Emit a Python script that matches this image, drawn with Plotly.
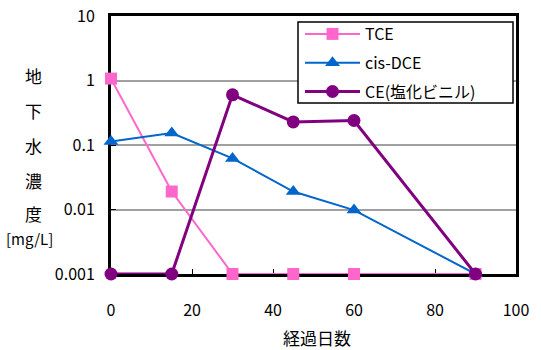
import plotly.graph_objects as go

days = [0, 15, 30, 45, 60, 90]
tce = [1.07, 0.019, 0.001, 0.001, 0.001, 0.001]
cis_dce = [0.113, 0.153, 0.062, 0.019, 0.0098, 0.001]
ce = [0.001, 0.001, 0.6, 0.228, 0.24, 0.001]

series_names = ["TCE", "cis-DCE", "CE(塩化ビニル)"]
ytick_vals = [0.001, 0.01, 0.1, 1, 10]
ytick_text = ["0.001", "0.01", "0.1", "1", "10"]
xtick_vals = [0, 20, 40, 60, 80, 100]
y_title_chars = ["地", "下", "水", "濃", "度"]
y_unit = "[mg/L]"
x_title = "経過日数"

FONT = "Noto Sans CJK JP"

fig = go.Figure()
fig.add_trace(go.Scatter(x=days, y=tce, name=series_names[0], mode="lines+markers",
                         line=dict(color="#FF66CC", width=2),
                         marker=dict(symbol="square", size=12, color="#FF66CC"),
                         cliponaxis=False, legendgroup="a"))
fig.add_trace(go.Scatter(x=days, y=cis_dce, name=series_names[1], mode="lines+markers",
                         line=dict(color="#0066CC", width=2),
                         marker=dict(symbol="triangle-up", size=13, color="#0066CC"),
                         cliponaxis=False, legendgroup="b"))
fig.add_trace(go.Scatter(x=days, y=ce, name=series_names[2], mode="lines+markers",
                         line=dict(color="#800080", width=3),
                         marker=dict(symbol="circle", size=13, color="#800080"),
                         cliponaxis=False, legendgroup="c"))

# legend frame (paper coords of the boxed legend area)
fig.add_shape(type="rect", xref="paper", yref="paper",
              x0=(298 - 111) / 405, x1=(513 - 111) / 405,
              y0=(274 - 103) / 258, y1=(274 - 22) / 258,
              line=dict(color="black", width=1.5), fillcolor="white", layer="above")

fig.update_layout(
    width=541, height=350,
    margin=dict(l=111, r=25, t=16, b=76, autoexpand=False),
    paper_bgcolor="white", plot_bgcolor="white",
    font=dict(family=FONT, size=16, color="black"),
    showlegend=True,
    legend=dict(x=(300 - 111) / 405, y=(274 - 17) / 258, xanchor="left", yanchor="top",
                bgcolor="rgba(0,0,0,0)", borderwidth=0,
                font=dict(family=FONT, size=16), tracegroupgap=5,
                itemwidth=55, traceorder="grouped"),
    xaxis=dict(range=[0, 100], tickvals=xtick_vals, ticks="inside", ticklen=5,
               tickcolor="black", tickwidth=1, showline=True, linecolor="black",
               linewidth=3, mirror=True, showgrid=False, zeroline=False,
               layer="below traces", ticklabelstandoff=20, automargin=False,
               tickfont=dict(size=16)),
    yaxis=dict(type="log", range=[-3, 1], tickvals=ytick_vals, ticktext=ytick_text,
               ticks="inside", ticklen=5, tickcolor="black",
               showline=True, linecolor="black", linewidth=3, mirror=True,
               showgrid=True, gridcolor="#A0A0A0", gridwidth=2, zeroline=False,
               layer="below traces", ticklabelstandoff=10, automargin=False,
               tickfont=dict(size=16)),
)

ys = [75, 110, 145, 180, 213]
for ch, yy in zip(y_title_chars, ys):
    fig.add_annotation(text=ch, xref="paper", yref="paper", showarrow=False,
                       x=(33 - 111) / 405, y=(274 - yy) / 258,
                       xanchor="center", yanchor="middle",
                       font=dict(family=FONT, size=17))
fig.add_annotation(text=y_unit, xref="paper", yref="paper", showarrow=False,
                   x=(29 - 111) / 405, y=(274 - 238) / 258,
                   xanchor="center", yanchor="middle",
                   font=dict(family=FONT, size=15))
fig.add_annotation(text=x_title, xref="paper", yref="paper", showarrow=False,
                   x=(317 - 111) / 405, y=(274 - 337) / 258,
                   xanchor="center", yanchor="middle",
                   font=dict(family=FONT, size=17))

fig.write_html("out.html")
